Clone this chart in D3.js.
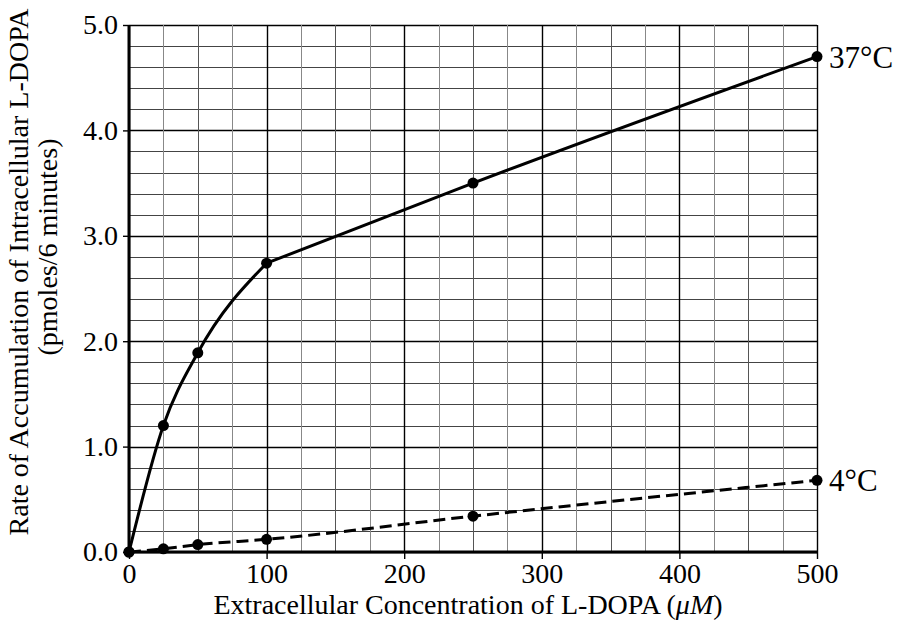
<!DOCTYPE html>
<html>
<head>
<meta charset="utf-8">
<script src="https://cdn.jsdelivr.net/npm/d3@7"></script>
<style>
  html, body { margin: 0; padding: 0; background: #fff; }
  svg { display: block; }
  text { font-family: "Liberation Serif", "Times New Roman", serif; fill: #000; }
</style>
</head>
<body>
<svg id="chart" width="898" height="625"></svg>
<script>
// Data
const concentrations = [0, 25, 50, 100, 250, 500];
const rate37 = [0, 1.2, 1.89, 2.74, 3.5, 4.7];
const rate4 = [0, 0.03, 0.07, 0.12, 0.34, 0.68];
const seriesLabels = ["37°C", "4°C"];
const xTicks = [0, 100, 200, 300, 400, 500];
const yTicks = [0, 1, 2, 3, 4, 5];

const svg = d3.select("#chart");
const margin = { left: 129, right: 81, top: 25, bottom: 73 };
const W = 898, H = 625;

const x = d3.scaleLinear().domain([0, 500]).range([margin.left, W - margin.right]);
const y = d3.scaleLinear().domain([0, 5]).range([H - margin.bottom, margin.top]);

// grid
const g = svg.append("g");
d3.range(0, 5.0001, 0.2).forEach(v => {
  const major = Math.abs(v - Math.round(v)) < 1e-6;
  g.append("line")
    .attr("x1", x(0)).attr("x2", x(500))
    .attr("y1", Math.round(y(v)) + 0.5).attr("y2", Math.round(y(v)) + 0.5)
    .attr("stroke", major ? "#000" : "#444")
    .attr("stroke-width", major ? 1.4 : 1);
});
d3.range(0, 500.001, 25).forEach(v => {
  const major = v % 100 === 0;
  g.append("line")
    .attr("y1", y(0)).attr("y2", y(5))
    .attr("x1", Math.round(x(v)) + 0.5).attr("x2", Math.round(x(v)) + 0.5)
    .attr("stroke", major ? "#000" : (v % 50 === 0 ? "#555" : "#888"))
    .attr("stroke-width", major ? 1.4 : 1);
});

// axes
const xAxis = d3.axisBottom(x).tickValues(xTicks).tickSize(7).tickPadding(4).tickFormat(d3.format("d"));
const yAxis = d3.axisLeft(y).tickValues(yTicks).tickSize(6).tickPadding(5).tickFormat(d3.format(".1f"));

const gx = svg.append("g").attr("transform", `translate(0,${y(0)})`).call(xAxis);
const gy = svg.append("g").attr("transform", `translate(${x(0)},0)`).call(yAxis);
[gx, gy].forEach(a => {
  a.select(".domain").remove();
  a.selectAll(".tick line").attr("stroke", "#000").attr("stroke-width", 1.4);
  a.selectAll(".tick text").style("font-family", '"Liberation Serif", serif').style("font-size", "28px").attr("fill", "#000");
});

// thick axis lines
svg.append("line").attr("x1", x(0)).attr("x2", x(500)).attr("y1", y(0)).attr("y2", y(0))
  .attr("stroke", "#000").attr("stroke-width", 3);
svg.append("line").attr("x1", x(0)).attr("x2", x(0)).attr("y1", y(0) + 1.5).attr("y2", y(5))
  .attr("stroke", "#000").attr("stroke-width", 3);

// series
const line = d3.line().x(d => x(d[0])).y(d => y(d[1])).curve(d3.curveMonotoneX);
const d37 = concentrations.map((c, i) => [c, rate37[i]]);
const d4 = concentrations.map((c, i) => [c, rate4[i]]);

// 37°C curve drawn as a saturating part (0–100) and a near-linear part (100–500)
svg.append("path").attr("d", line(d37.slice(0, 4))).attr("fill", "none").attr("stroke", "#000").attr("stroke-width", 3)
  .attr("stroke-linejoin", "round").attr("stroke-linecap", "round");
svg.append("path").attr("d", line(d37.slice(3))).attr("fill", "none").attr("stroke", "#000").attr("stroke-width", 3)
  .attr("stroke-linejoin", "round").attr("stroke-linecap", "round");
svg.append("path").attr("d", line(d4)).attr("fill", "none").attr("stroke", "#000").attr("stroke-width", 3)
  .attr("stroke-dasharray", "12,6");

[d37, d4].forEach(ds => {
  svg.append("g").selectAll("circle").data(ds).join("circle")
    .attr("cx", d => x(d[0])).attr("cy", d => y(d[1])).attr("r", 5.5).attr("fill", "#000");
});

// series labels
svg.append("text").attr("x", x(500) + 12).attr("y", y(rate37[5]) + 11).style("font-size", "31px").text(seriesLabels[0]);
svg.append("text").attr("x", x(500) + 12).attr("y", y(rate4[5]) + 11).style("font-size", "31px").text(seriesLabels[1]);

// axis titles
const xt = svg.append("text").attr("x", 468).attr("y", 614).attr("text-anchor", "middle").style("font-size", "28px");
xt.append("tspan").text("Extracellular Concentration of L-DOPA (");
xt.append("tspan").style("font-style", "italic").text("μM");
xt.append("tspan").text(")");

svg.append("text").attr("transform", `translate(28,272) rotate(-90)`).attr("text-anchor", "middle")
  .style("font-size", "28px").text("Rate of Accumulation of Intracellular L-DOPA");
svg.append("text").attr("transform", `translate(57,247) rotate(-90)`).attr("text-anchor", "middle")
  .style("font-size", "28px").text("(pmoles/6 minutes)");
</script>
</body>
</html>
